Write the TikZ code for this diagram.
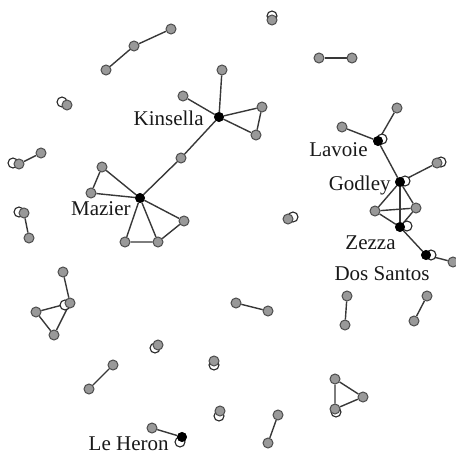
\documentclass[tikz,border=0pt]{standalone}
\usepackage{fontspec}
\setmainfont{Liberation Serif}
\usetikzlibrary{positioning, backgrounds}

\begin{document}
\begin{tikzpicture}[
  x=0.5pt, y=-0.5pt,
  %% vertex styles
  actor/.style={circle, inner sep=0pt, minimum size=5pt,
    line width=0.5pt, draw=black!70, fill=black!40},
  hub/.style={circle, inner sep=0pt, minimum size=4.6pt,
    draw=black, fill=black},
  ghost/.style={circle, inner sep=0pt, minimum size=5pt,
    line width=0.55pt, draw=black!85, fill=white},
  tie/.style={line width=0.7pt, black!78},
  who/.style={font=\fontsize{10.5}{12}\selectfont, text=black!90,
    inner sep=0pt, anchor=base east}
]
\useasboundingbox (0,0) rectangle (456,455);

%% ── Kinsella / Mazier component ──────────────────────────────────────
\node[hub]   (kin)  at (219,117) {};
\node[actor] (kinT) at (222,70)  {};
\node[actor] (kinL) at (183,96)  {};
\node[actor] (kinA) at (262,107) {};
\node[actor] (kinB) at (256,135) {};
\node[actor] (mid)  at (181,158) {};
\node[hub]   (maz)  at (140,198) {};
\node[actor] (mazA) at (102,167) {};
\node[actor] (mazB) at (91,193)  {};
\node[actor] (mazC) at (184,221) {};
\node[actor] (mazD) at (158,242) {};
\node[actor] (mazE) at (125,242) {};

\node[who] (kinlbl) at (204,126) {Kinsella};
\node[who] (mazlbl) at (131,215) {Mazier};

%% ── Lavoie / Godley / Zezza / Dos Santos chain ───────────────────────
\node[ghost] (lavG) at (382,139) {};
\node[hub]   (lav)  at (378,141) {};
\node[actor] (lavL) at (342,127) {};
\node[actor] (lavT) at (397,108) {};
\node[ghost] (godG) at (405,181) {};
\node[hub]   (god)  at (400,182) {};
\node[ghost] (godRG) at (441,162) {};
\node[actor] (godR) at (437,163) {};
\node[actor] (triL) at (375,211) {};
\node[actor] (triR) at (416,208) {};
\node[ghost] (zezG) at (407,226) {};
\node[hub]   (zez)  at (400,227) {};
\node[ghost] (dosG) at (431,255) {};
\node[hub]   (dos)  at (426,255) {};
\node[actor] (dosR) at (453,262) {};

\node[who] (lavlbl) at (368,156) {Lavoie};
\node[who] (godlbl) at (391,190) {Godley};
\node[who] (zezlbl) at (396,249) {Zezza};
\node[who] (doslbl) at (430,280) {Dos Santos};

%% ── Le Heron ─────────────────────────────────────────────────────────
\node[ghost] (lehG) at (180,442) {};
\node[hub]   (leh)  at (182,437) {};
\node[actor] (lehL) at (152,428) {};
\node[who] (lehlbl) at (169,450) {Le Heron};

%% ── small components ─────────────────────────────────────────────────
\node[actor] (c1) at (106,70)  {};
\node[actor] (c2) at (134,46)  {};
\node[actor] (c3) at (171,29)  {};

\node[actor] (p1a) at (319,58)  {};
\node[actor] (p1b) at (352,58)  {};
\node[ghost] (p2g) at (13,163)  {};
\node[actor] (p2a) at (19,164)  {};
\node[actor] (p2b) at (41,153)  {};
\node[ghost] (p3g) at (19,212)  {};
\node[actor] (p3a) at (24,213)  {};
\node[actor] (p3b) at (29,238)  {};
\node[actor] (p4a) at (236,303) {};
\node[actor] (p4b) at (268,311) {};
\node[actor] (p5a) at (347,296) {};
\node[actor] (p5b) at (345,325) {};
\node[actor] (p6a) at (427,296) {};
\node[actor] (p6b) at (414,321) {};
\node[actor] (p7a) at (278,415) {};
\node[actor] (p7b) at (268,443) {};
\node[actor] (p8a) at (113,365) {};
\node[actor] (p8b) at (89,389)  {};

%% left triangle
\node[actor] (t1T) at (63,272)  {};
\node[ghost] (t1G) at (65,305)  {};
\node[actor] (t1R) at (70,303)  {};
\node[actor] (t1L) at (36,312)  {};
\node[actor] (t1B) at (54,335)  {};

%% bottom-right triangle
\node[actor] (t2T) at (335,379) {};
\node[actor] (t2R) at (363,397) {};
\node[ghost] (t2G) at (336,412) {};
\node[actor] (t2B) at (335,409) {};

%% isolates
\node[ghost] (i1g) at (62,102)  {};
\node[actor] (i1)  at (67,105)  {};
\node[ghost] (i2g) at (272,16)  {};
\node[actor] (i2)  at (272,20)  {};
\node[ghost] (i3g) at (293,217) {};
\node[actor] (i3)  at (288,219) {};
\node[ghost] (i4g) at (155,348) {};
\node[actor] (i4)  at (158,345) {};
\node[ghost] (i5g) at (214,365) {};
\node[actor] (i5)  at (214,361) {};
\node[ghost] (i6g) at (219,416) {};
\node[actor] (i6)  at (220,411) {};

%% ──────────────────────── Ties ───────────────────────────────────────
\begin{pgfonlayer}{background}
\draw[tie] (kin) -- (kinT);
\draw[tie] (kin) -- (kinL);
\draw[tie] (kin) -- (kinA) -- (kinB) -- (kin);
\draw[tie] (kin) -- (mid) -- (maz);
\draw[tie] (maz) -- (mazA) -- (mazB) -- (maz);
\draw[tie] (maz) -- (mazC) -- (mazD) -- (maz);
\draw[tie] (maz) -- (mazE) -- (mazD);

\draw[tie] (lav) -- (lavL);
\draw[tie] (lav) -- (lavT);
\draw[tie] (lav) -- (god) -- (godR);
\draw[tie] (god) -- (triL) -- (triR) -- (god);
\draw[tie] (god) -- (zez);
\draw[tie] (triL) -- (zez) -- (triR);
\draw[tie] (zez) -- (dos) -- (dosR);

\draw[tie] (leh) -- (lehL);

\draw[tie] (c1) -- (c2) -- (c3);
\draw[tie] (p1a) -- (p1b);
\draw[tie] (p2a) -- (p2b);
\draw[tie] (p3a) -- (p3b);
\draw[tie] (p4a) -- (p4b);
\draw[tie] (p5a) -- (p5b);
\draw[tie] (p6a) -- (p6b);
\draw[tie] (p7a) -- (p7b);
\draw[tie] (p8a) -- (p8b);

\draw[tie] (t1T) -- (t1R);
\draw[tie] (t1L) -- (t1R) -- (t1B) -- (t1L);
\draw[tie] (t2T) -- (t2R) -- (t2B) -- (t2T);
\end{pgfonlayer}

\end{tikzpicture}
\end{document}
